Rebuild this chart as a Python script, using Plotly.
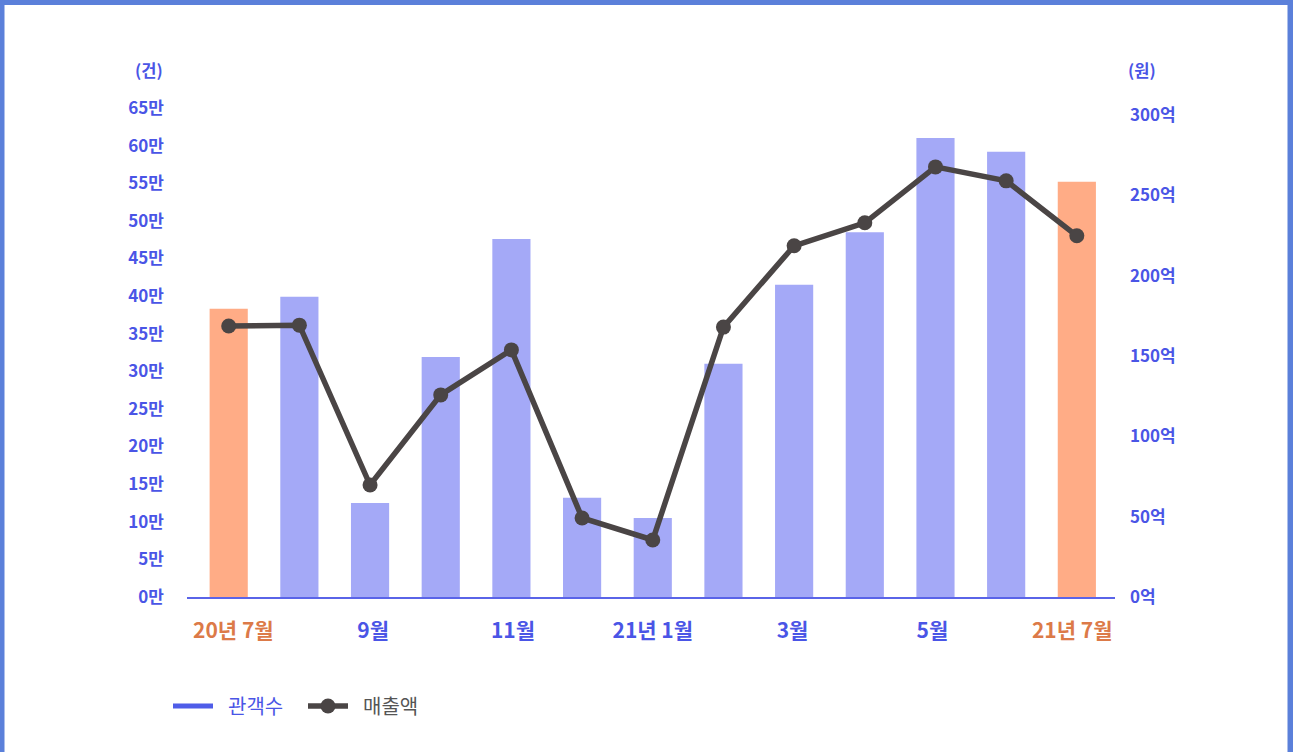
import plotly.graph_objects as go

months = ["20년 7월", "8월", "9월", "10월", "11월", "12월", "21년 1월", "2월", "3월", "4월", "5월", "6월", "21년 7월"]
audience_man = [38.3, 39.9, 12.5, 31.9, 47.6, 13.2, 10.5, 31.0, 41.5, 48.5, 61.0, 59.2, 55.2]
sales_eok = [168.7, 169.2, 69.7, 125.8, 153.8, 49.2, 35.5, 168.0, 218.6, 232.9, 267.7, 259.0, 224.8]
highlight = [True, False, False, False, False, False, False, False, False, False, False, False, True]
tick_idx = [0, 2, 4, 6, 8, 10, 12]
left_ticks = list(range(0, 70, 5))
right_ticks = list(range(0, 350, 50))

BLUE_TXT = "#4a55e6"
ORANGE_TXT = "#dc7a48"
BAR_BLUE = "#a4a9f7"
BAR_ORANGE = "#ffac86"
LINE = "#4a4545"
BORDER = "#5b80da"
FONT = "Noto Sans CJK KR"

x = list(range(len(months)))
bar_colors = [BAR_ORANGE if h else BAR_BLUE for h in highlight]

ticktext = []
for i in tick_idx:
    c = ORANGE_TXT if highlight[i] else BLUE_TXT
    ticktext.append(f'<span style="color:{c}">{months[i]}</span>')
# label positions are spread slightly narrower than the bars, as in the reference
tick_pos = [6 + (i - 6) * 0.989 for i in tick_idx]

fig = go.Figure()
fig.add_trace(go.Bar(x=x, y=audience_man, marker=dict(color=bar_colors, line=dict(width=0)),
                     width=0.54, showlegend=False, yaxis="y"))
fig.add_trace(go.Scatter(x=[None], y=[None], mode="lines", line=dict(color="#4f5de8", width=5),
                         name=f'<span style="color:{BLUE_TXT}">\u2002관객수</span>'))
fig.add_trace(go.Scatter(x=x, y=sales_eok, mode="lines+markers", yaxis="y2",
                         line=dict(color=LINE, width=5.5), marker=dict(color=LINE, size=15),
                         name=f'<span style="color:#555">\u2002매출액</span>'))

L, R, T, B = 187, 178, 108, 155
W, H = 1293, 752
pw, ph = W - L - R, H - T - B

def px_x(p):
    return (p - L) / pw

def px_y(p):
    return (H - B - p) / ph

shapes = [
    dict(type="rect", xref="paper", yref="paper", x0=px_x(0), x1=px_x(W), y0=px_y(5), y1=px_y(0),
         fillcolor=BORDER, line=dict(width=0), layer="above"),
    dict(type="rect", xref="paper", yref="paper", x0=px_x(0), x1=px_x(4.5), y0=px_y(H), y1=px_y(0),
         fillcolor=BORDER, line=dict(width=0), layer="above"),
    dict(type="rect", xref="paper", yref="paper", x0=px_x(1287.5), x1=px_x(W), y0=px_y(H), y1=px_y(0),
         fillcolor=BORDER, line=dict(width=0), layer="above"),
]

annotations = [
    dict(text="(건)", xref="paper", yref="paper", x=px_x(148.5), y=px_y(70), showarrow=False,
         font=dict(family=FONT, size=16.5, color=BLUE_TXT, weight=700), xanchor="center", yanchor="middle"),
    dict(text="(원)", xref="paper", yref="paper", x=px_x(1142), y=px_y(70), showarrow=False,
         font=dict(family=FONT, size=16.5, color=BLUE_TXT, weight=700), xanchor="center", yanchor="middle"),
]

fig.update_layout(
    width=W, height=H,
    margin=dict(l=L, r=R, t=T, b=B),
    paper_bgcolor="white", plot_bgcolor="white",
    font=dict(family=FONT, color=BLUE_TXT),
    xaxis=dict(range=[-0.59, 12.54], tickmode="array", tickvals=tick_pos, ticktext=ticktext,
               showgrid=False, zeroline=False, showline=True, linecolor="#5a64e8", linewidth=2,
               ticks="", tickfont=dict(family=FONT, size=21, weight=700), ticklabelstandoff=14),
    yaxis=dict(range=[0, 65], tickmode="array", tickvals=left_ticks,
               ticktext=[f"{v}만" for v in left_ticks], showgrid=False, zeroline=False,
               showline=False, ticks="", tickfont=dict(family=FONT, size=17, color=BLUE_TXT, weight=700),
               ticklabelstandoff=22),
    yaxis2=dict(range=[0, 300 * ph / (H - B - 115)], overlaying="y", side="right", tickmode="array",
                tickvals=right_ticks, ticktext=[f"{v}억" for v in right_ticks], showgrid=False,
                zeroline=False, showline=False, ticks="",
                tickfont=dict(family=FONT, size=17, color=BLUE_TXT, weight=700), ticklabelstandoff=14),
    legend=dict(orientation="h", x=px_x(168), y=px_y(706), xanchor="left", yanchor="middle",
                font=dict(family=FONT, size=20), itemwidth=40, bgcolor="rgba(0,0,0,0)",
                entrywidth=80, entrywidthmode="pixels"),
    shapes=shapes,
    annotations=annotations,
    bargap=0.46,
)

fig.write_html("out.html", config={"displayModeBar": False},
               post_script="document.body.style.margin='0';")
